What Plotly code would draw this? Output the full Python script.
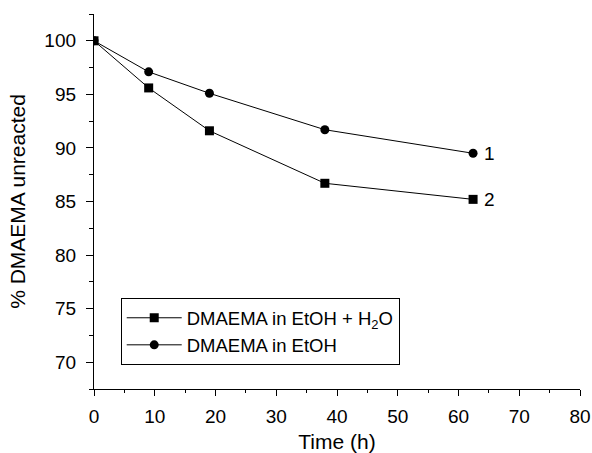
import plotly.graph_objects as go

time_h = [0, 9, 19, 38, 62.4]
etoh_h2o = [100, 95.6, 91.6, 86.7, 85.2]
etoh = [100, 97.1, 95.1, 91.7, 89.5]
x_ticks = [0, 10, 20, 30, 40, 50, 60, 70, 80]
y_ticks = [70, 75, 80, 85, 90, 95, 100]

FONT = "Liberation Sans, Arial, sans-serif"

fig = go.Figure()
fig.add_trace(go.Scatter(
    x=time_h, y=etoh_h2o, mode="lines+markers",
    name="DMAEMA in EtOH + H<sub>2</sub>O",
    line=dict(color="black", width=1),
    marker=dict(symbol="square", size=9, color="black"),
))
fig.add_trace(go.Scatter(
    x=time_h, y=etoh, mode="lines+markers",
    name="DMAEMA in EtOH",
    line=dict(color="black", width=1),
    marker=dict(symbol="circle", size=9, color="black"),
))

fig.add_annotation(x=time_h[-1], y=etoh[-1], text="1", showarrow=False,
                   xanchor="left", xshift=9, yshift=0, font=dict(size=19, color="black", family=FONT))
fig.add_annotation(x=time_h[-1], y=etoh_h2o[-1], text="2", showarrow=False,
                   xanchor="left", xshift=9, yshift=0, font=dict(size=19, color="black", family=FONT))

fig.update_layout(
    width=592, height=453,
    margin=dict(l=94, r=12, t=14, b=64),
    paper_bgcolor="white", plot_bgcolor="white",
    font=dict(family=FONT, size=19, color="black"),
    showlegend=True,
    legend=dict(
        x=0.055, y=0.242, xanchor="left", yanchor="top",
        bordercolor="black", borderwidth=1, bgcolor="white",
        font=dict(size=18.5, family=FONT), tracegroupgap=0,
        itemwidth=55,
    ),
    xaxis=dict(
        range=[0, 80], tickvals=x_ticks, showgrid=False, zeroline=False,
        showline=True, linecolor="black", linewidth=1.3,
        ticks="outside", ticklen=6, tickwidth=1.3, tickcolor="black",
        ticklabelstandoff=4,
        minor=dict(ticks="outside", ticklen=3, tickwidth=1.3, tickcolor="black", dtick=5),
        title=dict(text="Time (h)", font=dict(size=21), standoff=8),
        tickfont=dict(size=19), automargin=False,
    ),
    yaxis=dict(
        range=[67.5, 102.5], tickvals=y_ticks, showgrid=False, zeroline=False,
        showline=True, linecolor="black", linewidth=1.3,
        ticks="outside", ticklen=7, tickwidth=1.3, tickcolor="black",
        ticklabelstandoff=6,
        minor=dict(ticks="outside", ticklen=4, tickwidth=1.3, tickcolor="black", dtick=2.5),
        title=dict(text="% DMAEMA unreacted", font=dict(size=21), standoff=12),
        tickfont=dict(size=19), automargin=False,
    ),
)

fig.write_html("out.html")
